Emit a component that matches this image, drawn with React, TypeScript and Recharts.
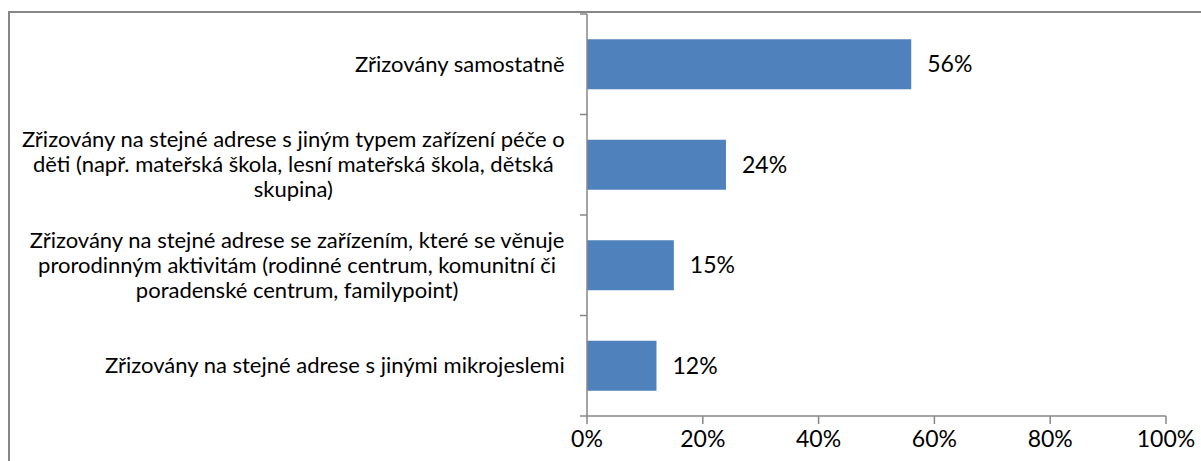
import { BarChart, Bar, XAxis, YAxis, LabelList } from "recharts";

const categories = [
  ["Zřizovány samostatně"],
  [
    "Zřizovány na stejné adrese s jiným typem zařízení péče o",
    "děti (např. mateřská škola, lesní mateřská škola, dětská",
    "skupina)",
  ],
  [
    "Zřizovány na stejné adrese se zařízením, které se věnuje",
    "prorodinným aktivitám (rodinné centrum, komunitní či",
    "poradenské centrum, familypoint)",
  ],
  ["Zřizovány na stejné adrese s jinými mikrojeslemi"],
];
const values = [56, 24, 15, 12];
const xTicks = [0, 20, 40, 60, 80, 100];

const data = categories.map((lines, i) => ({
  name: lines.join(" "),
  lines,
  value: values[i],
}));

const FONT = "Lato, 'Open Sans', sans-serif";
const CAT_SIZE = 22;
const NUM_SIZE = 23;
const AXIS_X = 587;
const TEXT_RIGHT = 565;
const AXIS_COLOR = "#878787";

let ctx: CanvasRenderingContext2D | null = null;
function measure(text: string, size: number) {
  if (!ctx) ctx = document.createElement("canvas").getContext("2d");
  if (!ctx) return text.length * size * 0.5;
  ctx.font = `${size}px Lato`;
  return ctx.measureText(text).width;
}

function CategoryTick(props: any) {
  const { y, payload, index } = props;
  const lines: string[] = data[index]?.lines ?? [String(payload.value)];
  const half = payload.offset || 50.5;
  const maxW = Math.max(...lines.map((l) => measure(l, CAT_SIZE)));
  const cx = TEXT_RIGHT - maxW / 2;
  const lh = 25;
  const y0 = y - ((lines.length - 1) * lh) / 2;
  return (
    <g>
      <line x1={AXIS_X - 7} x2={AXIS_X} y1={y - half} y2={y - half} stroke={AXIS_COLOR} strokeWidth={1.5} />
      {index === data.length - 1 && (
        <line x1={AXIS_X - 7} x2={AXIS_X} y1={y + half} y2={y + half} stroke={AXIS_COLOR} strokeWidth={1.5} />
      )}
      {lines.map((l, i) => (
        <text
          key={i}
          x={cx}
          y={y0 + i * lh}
          dy="0.35em"
          textAnchor="middle"
          fontSize={CAT_SIZE}
          fontFamily={FONT}
          fill="#000"
        >
          {l}
        </text>
      ))}
    </g>
  );
}

export default function App() {
  return (
    <div
      style={{
        position: "absolute",
        left: 0,
        top: 0,
        width: 1201,
        height: 461,
        overflow: "hidden",
        background: "#fff",
        fontFamily: FONT,
      }}
    >
      <div
        style={{
          position: "absolute",
          left: 8,
          top: 11,
          width: 1400,
          height: 700,
          borderTop: `2px solid ${AXIS_COLOR}`,
          borderLeft: `2px solid ${AXIS_COLOR}`,
        }}
      />
      <div style={{ position: "absolute", left: 0, top: 0 }}>
        <BarChart
          width={1201}
          height={461}
          data={data}
          layout="vertical"
          margin={{ top: 14, right: 35, bottom: 0, left: 0 }}
          barCategoryGap="25%"
        >
          <XAxis
            type="number"
            domain={[0, 100]}
            ticks={xTicks}
            tickFormatter={(v) => `${v}%`}
            tickSize={8}
            tickMargin={7}
            height={45}
            axisLine={{ stroke: AXIS_COLOR, strokeWidth: 1.5 }}
            tickLine={{ stroke: AXIS_COLOR, strokeWidth: 1.5 }}
            tick={{ fill: "#000", fontSize: NUM_SIZE, fontFamily: FONT }}
            interval={0}
          />
          <YAxis
            type="category"
            dataKey="name"
            width={AXIS_X}
            tickLine={false}
            axisLine={{ stroke: AXIS_COLOR, strokeWidth: 1.5 }}
            tick={<CategoryTick />}
            interval={0}
          />
          <Bar dataKey="value" fill="#4F81BD" isAnimationActive={false}>
            <LabelList
              dataKey="value"
              position="right"
              offset={16}
              formatter={(v: any) => `${v}%`}
              fill="#000"
              fontSize={NUM_SIZE}
              fontFamily={FONT}
            />
          </Bar>
        </BarChart>
      </div>
    </div>
  );
}
